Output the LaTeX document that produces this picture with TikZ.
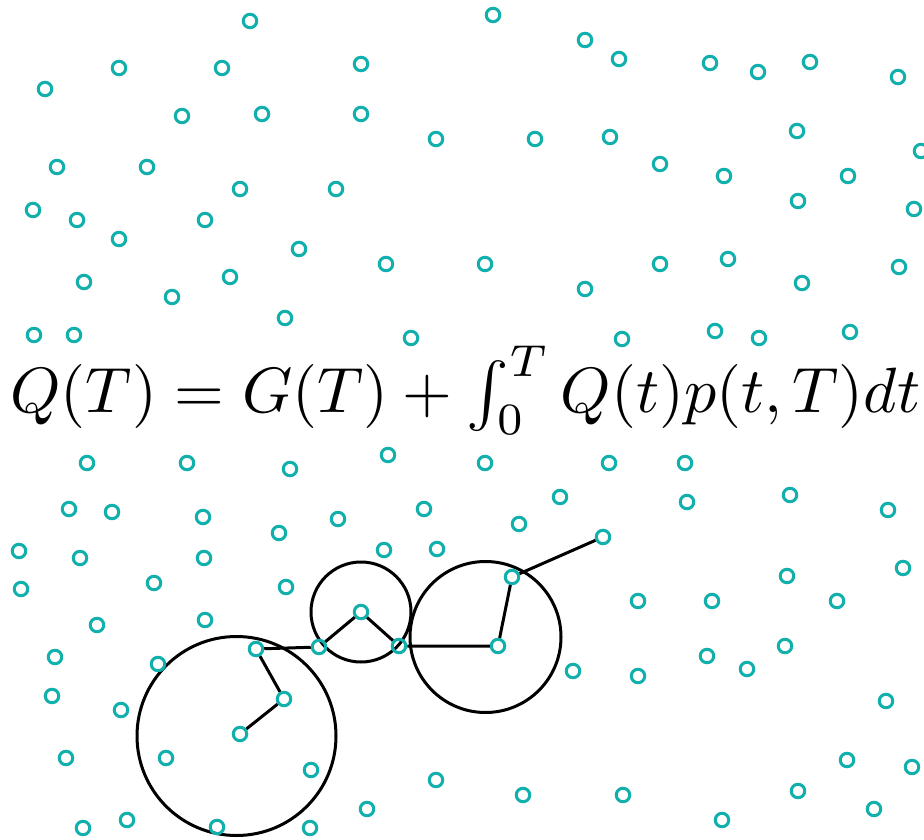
\documentclass[tikz,border=0pt]{standalone}
\definecolor{dotc}{RGB}{18,176,172}
\tikzset{
  dot/.style={circle, draw=dotc, line width=3pt, minimum size=13.5pt, inner sep=0pt},
  link/.style={draw=black, line width=3pt},
  ring/.style={circle, draw=black, line width=3pt, inner sep=0pt}
}
\begin{document}
\begin{tikzpicture}[x=1pt,y=-1pt]
\useasboundingbox (0,0) rectangle (924,840);
\clip (0,0) rectangle (924,840);
% rings
\node[ring, minimum size=199pt] (r1) at (236.5,736) {};
\node[ring, minimum size=100pt] (r2) at (361,612) {};
\node[ring, minimum size=151pt] (r3) at (485.5,637) {};
% equation
\node[anchor=base west, inner sep=0pt, scale=6.4] (eq) at (9,412) {$Q(T)=G(T)+\int_0^T Q(t)p(t,T)dt$};
% scattered dots
\foreach \x/\y [count=\i] in {
250/21,119/68,222/68,45/89,182/116,262/114,57/167,147/167,240/189,33/210,77/220,205/220,119/239,299/249,84/282,230/277,172/297,285/318,34/335,74/335,
493/15,585/40,361/64,361/114,436/139,535/139,610/137,336/189,386/264,485/264,585/289,411/338,
619/59,710/63,758/72,810/62,898/77,797/131,921/151,660/164,724/176,848/176,798/201,914/209,660/264,728/259,802/283,899/267,715/331,759/338,850/332,622/339,
87/463,187/463,290/469,69/509,112/512,203/517,279/533,19/551,80/558,204/558,154/583,21/589,286/587,97/625,205/620,55/657,158/664,52/696,121/710,66/758,166/758,83/828,127/820,217/827,311/770,
388/455,485/463,609/463,338/519,424/509,519/524,560/497,384/550,437/549,573/671,436/780,523/795,367/809,310/828,
685/463,687/502,790/495,888/510,903/568,787/576,638/601,712/601,837/601,707/656,747/669,785/646,638/676,886/701,847/760,912/767,798/791,874/809,623/795,722/820}
  \node[dot] (p\i) at (\x,\y) {};
% chain dots
\node[dot] (a1) at (240,734) {};
\node[dot] (a2) at (284,699) {};
\node[dot] (a3) at (256,649) {};
\node[dot] (a4) at (319,647) {};
\node[dot] (a5) at (361,612) {};
\node[dot] (a6) at (399,646) {};
\node[dot] (a7) at (498,646) {};
\node[dot] (a8) at (512,577) {};
\node[dot] (a9) at (603,537) {};
\draw[link] (a1) -- (a2) -- (a3) -- (a4) -- (a5) -- (a6) -- (a7) -- (a8) -- (a9);
\end{tikzpicture}
\end{document}
